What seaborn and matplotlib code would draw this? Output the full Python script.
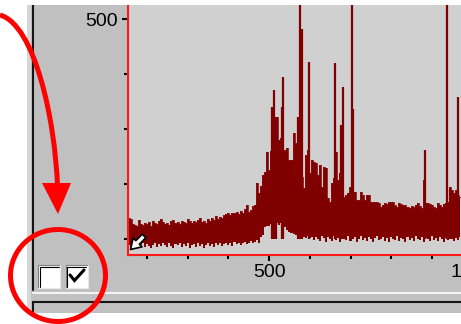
import matplotlib
matplotlib.use("Agg")
import matplotlib.pyplot as plt
import matplotlib.patches as mpatches
import matplotlib.transforms as mtransforms
from matplotlib.lines import Line2D
from matplotlib.path import Path
import seaborn as sns
import numpy as np

# noise band of the spectrum, read every 5 channels
channel = np.arange(150, 975, 5)
upper = [40, 48, 46, 34, 32, 30, 44, 34, 32, 36,
         34, 38, 30, 42, 36, 34, 40, 46, 38, 34,
         36, 32, 40, 44, 36, 38, 34, 42, 38, 36,
         46, 40, 36, 42, 38, 44, 48, 38, 40, 36,
         46, 42, 48, 44, 52, 46, 50, 48, 54, 56,
         58, 54, 60, 58, 62, 56, 64, 60, 68, 77,
         62, 66, 74, 77, 127, 105, 120, 145, 152, 198,
         157, 200, 240, 265, 277, 225, 230, 200, 202, 207,
         180, 180, 241, 218, 235, 190, 140, 116, 191, 202,
         150, 180, 175, 173, 145, 168, 118, 164, 161, 93,
         84, 127, 139, 198, 134, 150, 120, 95, 100, 105,
         118, 107, 107, 89, 89, 107, 100, 89, 100, 100,
         84, 84, 84, 84, 82, 73, 78, 82, 80, 84,
         84, 84, 78, 73, 82, 80, 77, 77, 72, 70,
         74, 73, 78, 82, 74, 70, 134, 82, 82, 80,
         77, 72, 70, 82, 78, 73, 80, 82, 85, 118,
         111, 105, 111, 100, 95]
lower = [-10, -14, -18, -12, -16, -8, -20, -14, -10, -18,
         -12, -16, -20, -14, -10, -18, -12, -16, -8, -14,
         -18, -10, -16, -20, -12, -14, -8, -18, -12, -16,
         -10, -20, -14, -12, -18, -8, -16, -12, -20, -14,
         -10, -16, -12, -18, -8, -14, -10, -16, -12, -8,
         -14, -10, -16, -6, -12, -8, -14, -10, -6, -12,
         -8, -4, -10, -6, -2, -8, 4, 10, 27, 30,
         30, 34, 40, 43, 36, 32, 36, 39, 28, 20,
         16, 14, 12, 8, 6, 9, 4, 5, 2, 6,
         2, 5, -2, 4, 0, -4, 6, 2, -6, 4,
         0, -4, 6, -2, 2, -6, 4, 0, -2, 6,
         -4, 2, 4, -6, 0, 6, -2, 2, -4, 4,
         0, -6, 2, 6, -2, 0, 4, -4, 2, -6,
         4, 0, -2, 6, -4, 2, 0, -6, 4, -2,
         2, -4, 6, 0, -2, 4, -6, 2, 0, -4,
         6, -2, 2, -4, 4, 0, -6, 2, -2, 6,
         0, -4, 2, -2, 4]

# narrow lines standing out of the band
peak_pos = [507, 512, 517, 532, 534, 571, 576, 581, 598, 662,
            677, 682, 704, 706, 883, 937, 945, 964]
peak_height = [300, 339, 277, 300, 368, 277, 600, 477, 402, 400,
               259, 345, 600, 295, 202, 600, 111, 323]

x_major = [500, 1000]
x_minor = [200, 300, 400, 600, 700, 800, 900]
y_major = [500]
y_minor = [0, 125, 250, 375]

sns.set_style("ticks")
plt.rcParams['font.family'] = ['Liberation Sans', 'DejaVu Sans']

W, H = 461, 324
fig = plt.figure(figsize=(W / 100, H / 100), dpi=100, facecolor='white')
# pixel coords (origin top left) for the window dressing
px = mtransforms.Affine2D().scale(1 / W, -1 / H).translate(0, 1) + fig.transFigure

# grey dialog panel
fig.add_artist(mpatches.Rectangle((27, 5), 434, 308, transform=px, fc='#c0c0c0', ec='none', zorder=-2))
fig.add_artist(mpatches.Rectangle((27, 5), 4, 308, transform=px, fc='#d6d6d6', ec='none', zorder=-1))

ax = fig.add_axes([127.5 / W, (H - 255) / H, (500 - 127.5) / W, 285 / H])
ax.set_facecolor('#d0d0d0')

ax.fill_between(channel, lower, upper, step='mid', color='#800000', lw=0)
sns.lineplot(x=channel, y=upper, drawstyle='steps-mid', color='#8a1010', lw=0.6, ax=ax)
ax.vlines(peak_pos, 0, peak_height, color='#800000', lw=1.6)

ax.set_xlim(152.1, 1067.3)
ax.set_ylim(-36.4, 611.4)
for s in ax.spines.values():
    s.set_color('#ff1a1a')
    s.set_linewidth(1.5)
    s.set_visible(True)

ax.set_xticks(x_major)
ax.set_xticklabels([str(v) for v in x_major])
ax.set_xticks(x_minor, minor=True)
ax.set_yticks(y_major)
ax.set_yticklabels([str(v) for v in y_major])
ax.set_yticks(y_minor, minor=True)
ax.tick_params(which='both', color='black', width=1.5, labelsize=14, labelcolor='black')
ax.tick_params(which='major', length=4.2)
ax.tick_params(which='minor', length=3.2)
ax.tick_params(axis='x', which='major', pad=2.4)
ax.tick_params(axis='y', which='major', pad=3)
ax.set_xlabel('')
ax.set_ylabel('')

# white strip over the top edge
fig.add_artist(mpatches.Rectangle((0, 0), W, 5, transform=px, fc='white', ec='none', zorder=5))

# sunken frame lines
fig.add_artist(Line2D([33, 33], [5, 290], transform=px, color='#151515', lw=1.5, zorder=2))
fig.add_artist(Line2D([33, 461], [292.5, 292.5], transform=px, color='#f4f4f4', lw=1.5, zorder=2))
fig.add_artist(Line2D([33, 461], [302, 302], transform=px, color='#151515', lw=1.5, zorder=2))
fig.add_artist(Line2D([33, 33], [302, 313], transform=px, color='#151515', lw=1.5, zorder=2))

# check boxes
for bx in [38, 65.5]:
    fig.add_artist(mpatches.Rectangle((bx, 265), 22, 23, transform=px, fc='white', ec='none', zorder=3))
    fig.add_artist(Line2D([bx, bx, bx + 22], [288, 265, 265], transform=px, color='#808080', lw=0.8, zorder=3))
    fig.add_artist(Line2D([bx + 1.5, bx + 1.5, bx + 20.5], [286.5, 266.5, 266.5], transform=px,
                          color='black', lw=0.8, zorder=3))
    fig.add_artist(Line2D([bx, bx + 22, bx + 22], [288, 288, 265], transform=px, color='#e8e8e8', lw=0.8, zorder=3))
fig.add_artist(Line2D([70, 74.5, 84], [275, 280.5, 270], transform=px, color='black', lw=2.2,
                      solid_joinstyle='miter', zorder=4))

# zoom-out icon in the plot corner
fig.add_artist(mpatches.FancyArrowPatch((144, 236), (130.5, 249.5), transform=px,
                                        arrowstyle='simple,head_length=0.8,head_width=1.0,tail_width=0.4',
                                        mutation_scale=9, shrinkA=0, shrinkB=0,
                                        fc='white', ec='black', lw=1.2, zorder=4))

# red annotation: curved arrow and circle
curve = Path([(0, 15), (35, 25), (55, 120), (57.5, 186)],
             [Path.MOVETO, Path.CURVE4, Path.CURVE4, Path.CURVE4])
fig.add_artist(mpatches.PathPatch(curve, transform=px, fc='none', ec='#ff0000', lw=3.6, zorder=6))
fig.add_artist(mpatches.Polygon([(42, 183), (71, 183), (58, 214)], closed=True, transform=px,
                                fc='#ff0000', ec='none', zorder=6))
fig.add_artist(mpatches.Ellipse((58, 275.5), 95, 92, transform=px, fc='none', ec='#ff0000', lw=3.6, zorder=6))

fig.savefig('out.png', dpi=100, facecolor='white')
